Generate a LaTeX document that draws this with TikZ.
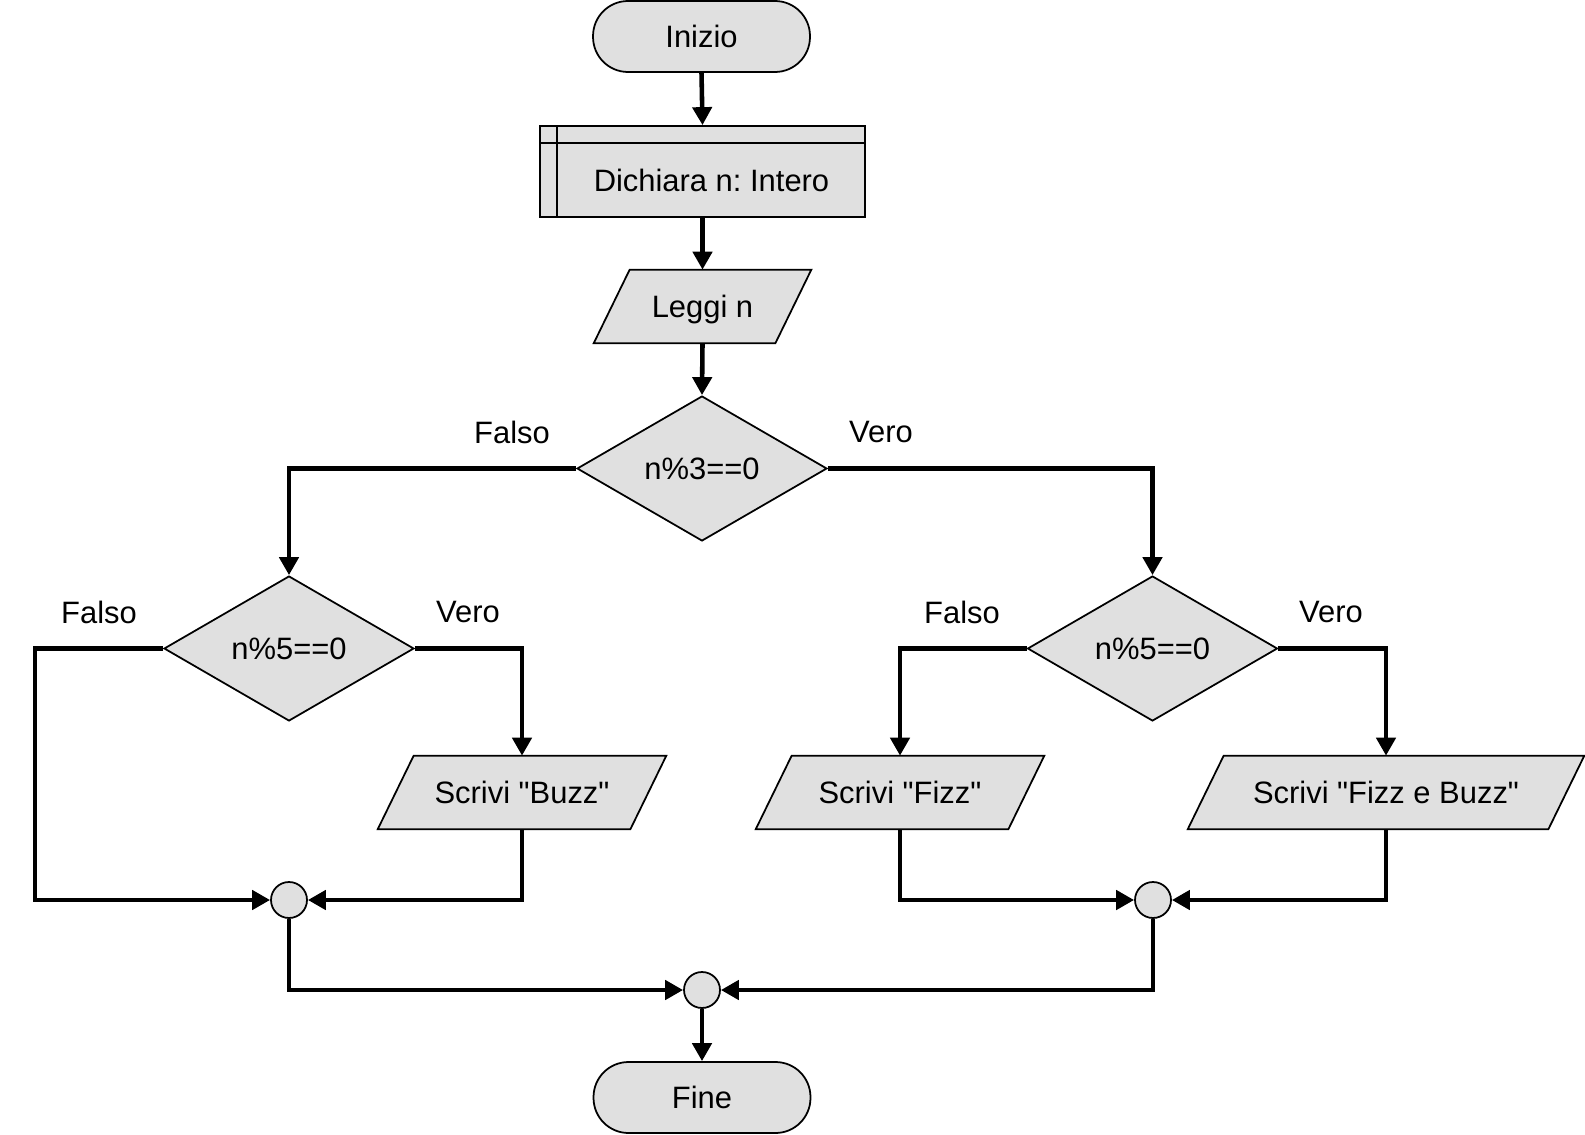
\documentclass[tikz,border=0pt]{standalone}
\usepackage{fontspec}
\setmainfont{Liberation Sans}
\usetikzlibrary{arrows.meta,shapes.geometric,calc,backgrounds}
\definecolor{boxfill}{HTML}{E0E0E0}
\frenchspacing
\newcommand\qt{\textquotedbl}
\begin{document}
\begin{tikzpicture}[x=0.02cm,y=-0.02cm,
  txt/.style={font=\fontsize{17.6pt}{21pt}\selectfont, inner sep=0pt},
  shapebase/.style={txt, draw=black, line width=1pt, fill=boxfill},
  outline/.style={draw=black, line width=1pt, fill=boxfill, line join=miter},
  terminal/.style={shapebase, rectangle, rounded corners=0.7cm,
    minimum width=4.34cm, minimum height=1.42cm},
  declbox/.style={shapebase, rectangle, minimum width=6.5cm, minimum height=1.82cm},
  io/.style={txt, rectangle, minimum height=1.46cm, text depth=0pt},
  decision/.style={shapebase, diamond, aspect=1.7, minimum width=5cm, minimum height=2.9cm},
  junction/.style={shapebase, circle, minimum size=0.72cm},
  conn/.style={line width=2.6pt, -{Triangle[length=0.36cm,width=0.38cm]}},
  lbl/.style={txt}
]
\useasboundingbox (0,0) rectangle (1585,1135);

% start and declaration
\node[terminal] (inizio) at (701.5,36.5) {Inizio};
\node[declbox] (decl) at (702.5,171.5) {};
\draw[line width=1pt] ($(decl.north west)+(0,18)$) -- ($(decl.north east)+(0,18)$);
\draw[line width=1pt] ($(decl.north west)+(18,0)$) -- ($(decl.south west)+(18,0)$);
\node[txt] (decltext) at (711.5,180.5) {Dichiara n: Intero};

% input / output blocks (text boxes; slanted outlines drawn behind)
\node[io, minimum width=3.62cm] (leggi) at (702.5,306.5) {Leggi n};
\node[io, minimum width=5.04cm] (buzz) at (522,792.5) {Scrivi \qt Buzz\qt};
\node[io, minimum width=5.04cm] (fizz) at (900,792.5) {Scrivi \qt Fizz\qt};
\node[io, minimum width=7.2cm] (fizzbuzz) at (1386,792.5) {Scrivi \qt Fizz e Buzz\qt};
\begin{scope}[on background layer]
  \foreach \n in {leggi,buzz,fizz,fizzbuzz}{
    \draw[outline] ($(\n.north west)+(18,0)$) -- ($(\n.north east)+(18,0)$)
      -- ($(\n.south east)+(-18,0)$) -- ($(\n.south west)+(-18,0)$) -- cycle;
  }
\end{scope}

% decisions
\node[decision] (d1) at (702,468.5) {n\%3==0};
\node[decision] (d2l) at (289,648.5) {n\%5==0};
\node[decision] (d2r) at (1152.5,648.5) {n\%5==0};

% junctions and end
\node[junction] (j1) at (289,900) {};
\node[junction] (j2) at (1153,900) {};
\node[junction] (j3) at (702,990) {};
\node[terminal] (fine) at (702,1097.5) {Fine};

% branch labels
\node[lbl] (l1f) at (512,432) {Falso};
\node[lbl] (l1v) at (881,432) {Vero};
\node[lbl] (l2f) at (99,612) {Falso};
\node[lbl] (l2v) at (468,612) {Vero};
\node[lbl] (l3f) at (962,612) {Falso};
\node[lbl] (l3v) at (1331,612) {Vero};

% connectors
\draw[conn] (inizio.south) -- (decl.north);
\draw[conn] (decl.south) -- (leggi.north);
\draw[conn] (leggi.south) -- (d1.north);
\draw[conn] (d1.west) -| (d2l.north);
\draw[conn] (d1.east) -| (d2r.north);
\draw[conn] (d2l.west) -- ++(-128,0) |- (j1.west);
\draw[conn] (d2l.east) -| (buzz.north);
\draw[conn] (buzz.south) |- (j1.east);
\draw[conn] (d2r.west) -| (fizz.north);
\draw[conn] (d2r.east) -| (fizzbuzz.north);
\draw[conn] (fizz.south) |- (j2.west);
\draw[conn] (fizzbuzz.south) |- (j2.east);
\draw[conn] (j1.south) |- (j3.west);
\draw[conn] (j2.south) |- (j3.east);
\draw[conn] (j3.south) -- (fine.north);
\end{tikzpicture}
\end{document}
